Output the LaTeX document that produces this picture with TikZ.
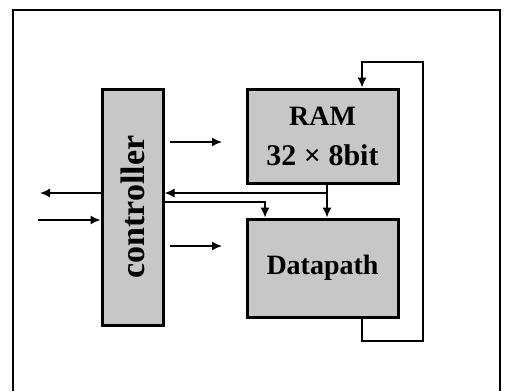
\documentclass[tikz,border=0pt]{standalone}
\usepackage{fontspec}
\setmainfont{Liberation Serif}
\usepackage{graphicx}
\usetikzlibrary{positioning,arrows.meta,calc}

\begin{document}
\begin{tikzpicture}[
	x=0.5pt, y=-0.5pt,
	font=\bfseries\fontsize{14}{20}\selectfont,
	block/.style={
		draw,
		line width=1.5pt,
		fill=black!22,
		align=center,
		inner sep=0pt,
	},
	arr/.style={-{Latex[length=5pt,width=4.5pt]}, line width=0.75pt},
]

\useasboundingbox (0,0) rectangle (506,391);

% --- Rahmen ---
\draw[line width=1pt] (13,391) -- (13,10) -- (500,10) -- (500,391);

% --- Bloecke ---
\node[block, minimum width=30.5pt, minimum height=118pt, font=\bfseries\fontsize{17}{20}\selectfont] (ctrl) at (132.5,207) {\rotatebox{90}{controller}};
\node[block, minimum width=75.5pt, minimum height=47pt] (ram) at (322.5,136) {RAM\\{\fontsize{15}{20}\selectfont 32 × 8bit}};
\node[block, minimum width=75.5pt, minimum height=49pt] (dp) at (322.5,268) {Datapath};

% --- Hilfspunkte ---
\coordinate (out) at (40,193);
\coordinate (in) at (38,220);
\coordinate (tap) at (327,193);
\coordinate (bus) at (265,202);
\coordinate (c1s) at (170,142);
\coordinate (c1e) at (222,142);
\coordinate (c2s) at (170,246);
\coordinate (c2e) at (222,246);
\coordinate (loopL) at (362,341);
\coordinate (loopR) at (423,62);

% --- Steuersignale ---
\draw[arr] (c1s) -- (c1e);
\draw[arr] (c2s) -- (c2e);

% --- Ein-/Ausgang des Controllers ---
\draw[arr] (ctrl.west |- out) -- (out);
\draw[arr] (in) -- (ctrl.west |- in);

% --- RAM -> Datapath / Controller ---
\draw[arr] (ram.south -| tap) -- (dp.north -| tap);
\draw[arr] (tap) -- (ctrl.east |- tap);
\draw[arr] (ctrl.east |- bus) -| (dp.north -| bus);

% --- Rueckkopplung Datapath -> RAM ---
\draw[arr] (dp.south -| loopL) -- (loopL) -| (loopR) -| (ram.north -| loopL);

\end{tikzpicture}
\end{document}
